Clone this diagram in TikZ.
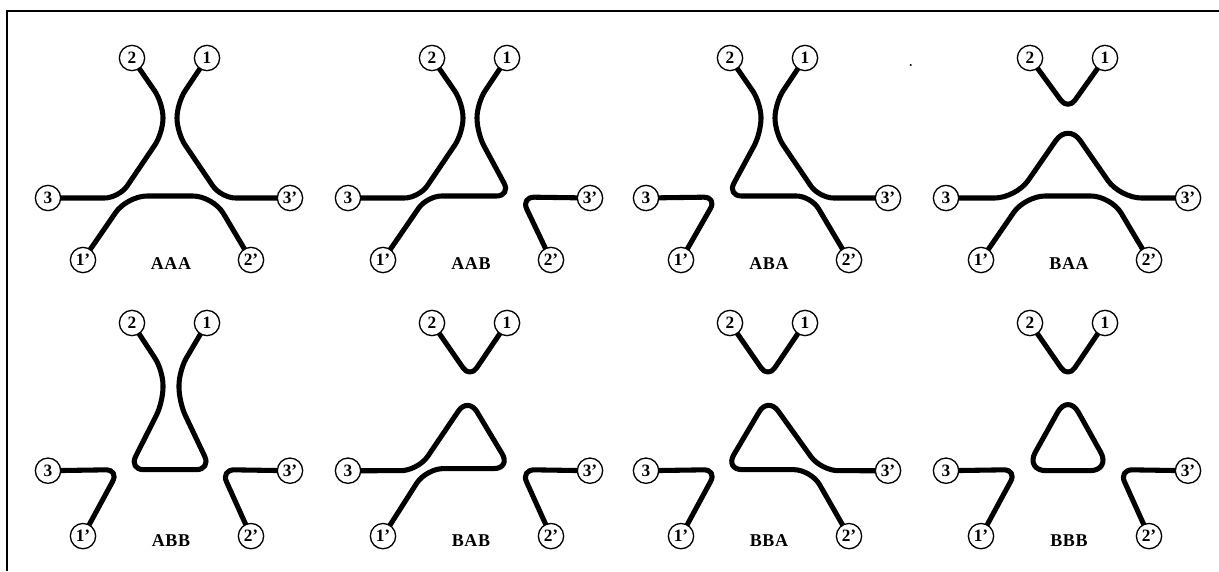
\documentclass[tikz,border=0pt]{standalone}
\usepackage{fontspec}
\setmainfont{Liberation Serif}
\usetikzlibrary{backgrounds}
\tikzset{
  term/.style={circle, draw, line width=1pt, fill=white, minimum size=19pt, inner sep=0pt,
    font=\fontsize{13}{13}\selectfont\bfseries},
  lab/.style={inner sep=0pt, font=\fontsize{13.5}{13.5}\selectfont\bfseries\addfontfeatures{LetterSpace=3}},
  strand/.style={line width=3.8pt, line cap=round, line join=round, rounded corners=11pt},
  arcstrand/.style={strand, rounded corners=15pt},
  vee/.style={strand, rounded corners=9pt},
  hook/.style={strand, rounded corners=10pt},
  frame/.style={line width=1.1pt}
}
\newcommand\panelterms[2]{%
  \node[term] (#1n2) at (132,58) {2};
  \node[term] (#1n1) at (207,58) {1};
  \node[term] (#1n3) at (48,198) {3};
  \node[term] (#1n3p) at (290,198) {3’};
  \node[term] (#1n1p) at (83,260) {1’};
  \node[term] (#1n2p) at (251,260) {2’};
  \node[lab] (#1lab) at (171,264) {#2};
}
\begin{document}
\begin{tikzpicture}[x=0.75pt, y=-0.75pt]
\useasboundingbox (0,0) rectangle (1219,571);
\coordinate (frTR) at (1219,11);
\coordinate (frTL) at (7,11);
\coordinate (frBL) at (7,571);
\draw[frame] (frTR) -- (frTL) -- (frBL);
\fill (910.7,65) circle (0.9pt);

% ---------- AAA ----------
\begin{scope}[shift={(0,0)}]
  \panelterms{a}{AAA}
  \begin{pgfonlayer}{background}
    \draw[strand] (an2.center) -- (163,103) -- (163,133) -- (119,198) -- (an3.center);
    \draw[strand] (an1.center) -- (177,103) -- (177,133) -- (221,198) -- (an3p.center);
    \draw[arcstrand] (an1p.center) -- (127,196) -- (213,196) -- (an2p.center);
  \end{pgfonlayer}
\end{scope}

% ---------- AAB ----------
\begin{scope}[shift={(300,0)}]
  \panelterms{b}{AAB}
  \begin{pgfonlayer}{background}
    \draw[strand] (bn2.center) -- (163,103) -- (163,133) -- (119,198) -- (bn3.center);
    \draw[strand] (bn1.center) -- (177,103) -- (177,133) -- (211,196) -- (127,196) -- (bn1p.center);
    \draw[hook] (bn3p.center) -- (221,197) -- (bn2p.center);
  \end{pgfonlayer}
\end{scope}

% ---------- ABA ----------
\begin{scope}[shift={(598,0)}]
  \panelterms{c}{ABA}
  \begin{pgfonlayer}{background}
    \draw[hook] (cn3.center) -- (119,197) -- (cn1p.center);
    \draw[strand] (cn2.center) -- (163,103) -- (163,133) -- (129,196) -- (213,196) -- (cn2p.center);
    \draw[strand] (cn1.center) -- (177,103) -- (177,133) -- (221,198) -- (cn3p.center);
  \end{pgfonlayer}
\end{scope}

% ---------- BAA ----------
\begin{scope}[shift={(898,0)}]
  \panelterms{d}{BAA}
  \begin{pgfonlayer}{background}
    \draw[vee] (dn2.center) -- (170,110) -- (dn1.center);
    \draw[strand, rounded corners=16pt] (dn3.center) -- (118,198) -- (170,123) -- (222,198) -- (dn3p.center);
    \draw[arcstrand] (dn1p.center) -- (127,196) -- (213,196) -- (dn2p.center);
  \end{pgfonlayer}
\end{scope}

% ---------- ABB ----------
\begin{scope}[shift={(0,261.8)}, yscale=1.055]
  \panelterms{e}{ABB}
  \begin{pgfonlayer}{background}
    \draw[strand] (en2.center) -- (163,103) -- (163,133) -- (129,197) -- (211,197) -- (179,133) -- (179,103) -- (en1.center);
    \draw[hook] (en3.center) -- (119,197) -- (en1p.center);
    \draw[hook] (en3p.center) -- (221,197) -- (en2p.center);
  \end{pgfonlayer}
\end{scope}

% ---------- BAB ----------
\begin{scope}[shift={(300,261.8)}, yscale=1.055]
  \panelterms{f}{BAB}
  \begin{pgfonlayer}{background}
    \draw[vee] (fn2.center) -- (170,110) -- (fn1.center);
    \draw[strand, rounded corners=13pt] (fn3.center) -- (118,198) -- (168,128) -- (211,196) -- (126,196) -- (fn1p.center);
    \draw[hook] (fn3p.center) -- (221,197) -- (fn2p.center);
  \end{pgfonlayer}
\end{scope}

% ---------- BBA ----------
\begin{scope}[shift={(598,261.8)}, yscale=1.055]
  \panelterms{g}{BBA}
  \begin{pgfonlayer}{background}
    \draw[vee] (gn2.center) -- (170,110) -- (gn1.center);
    \draw[hook] (gn3.center) -- (119,197) -- (gn1p.center);
    \draw[strand, rounded corners=13pt] (gn3p.center) -- (223,198) -- (170,128) -- (127,197) -- (213,197) -- (gn2p.center);
  \end{pgfonlayer}
\end{scope}

% ---------- BBB ----------
\begin{scope}[shift={(898,261.8)}, yscale=1.055]
  \panelterms{h}{BBB}
  \begin{pgfonlayer}{background}
    \draw[vee] (hn2.center) -- (170,110) -- (hn1.center);
    \draw[hook] (hn3.center) -- (119,197) -- (hn1p.center);
    \draw[hook] (hn3p.center) -- (221,197) -- (hn2p.center);
    \draw[strand, rounded corners=16pt] (170,198) -- (213,198) -- (170,125) -- (127,198) -- cycle;
  \end{pgfonlayer}
\end{scope}
\end{tikzpicture}
\end{document}
